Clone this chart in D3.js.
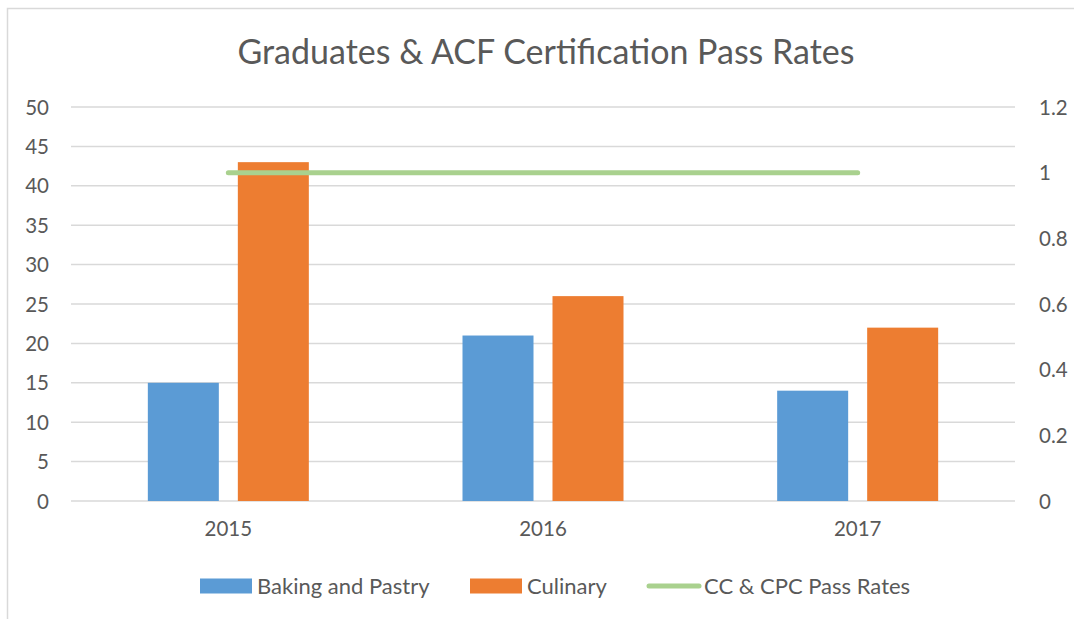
<!DOCTYPE html>
<html>
<head>
<meta charset="utf-8">
<script src="https://cdn.jsdelivr.net/npm/d3@7"></script>
<style>
  body { margin: 0; background: #fff; }
  text { font-family: Lato, "Open Sans", sans-serif; fill: #595959; }
</style>
</head>
<body>
<svg></svg>
<script>
let years = [ '2015', '2016', '2017' ]
let baking = [ 15, 21, 14 ]
let culinary = [ 43, 26, 22 ]
let passRates = [ 1, 1, 1 ]
let leftTicks = [ 0, 5, 10, 15, 20, 25, 30, 35, 40, 45, 50 ]
let rightTicks = [ 0, 0.2, 0.4, 0.6, 0.8, 1, 1.2 ]

let width = 1074
let height = 619
let plot = { left: 71, right: 1015, top: 107, bottom: 501 }

let chart =
d3.select( 'svg' )
  .attr( 'width', width )
  .attr( 'height', height )

// chart border
chart.append( 'rect' )
  .attr( 'x', 7.5 )
  .attr( 'y', 8.5 )
  .attr( 'width', 1080 )
  .attr( 'height', 640 )
  .attr( 'fill', 'none' )
  .attr( 'stroke', '#d9d9d9' )
  .attr( 'stroke-width', 1.5 )

const xScale =
d3.scaleBand()
  .domain( years )
  .range( [ plot.left, plot.right ] )

const yLeft =
d3.scaleLinear()
  .domain( [ 0, 50 ] )
  .range( [ plot.bottom, plot.top ] )

const yRight =
d3.scaleLinear()
  .domain( [ 0, 1.2 ] )
  .range( [ plot.bottom, plot.top ] )

// gridlines
chart.selectAll( '.grid' )
  .data( leftTicks )
  .enter()
  .append( 'line' )
  .attr( 'x1', plot.left )
  .attr( 'x2', plot.right )
  .attr( 'y1', d => yLeft( d ) )
  .attr( 'y2', d => yLeft( d ) )
  .attr( 'stroke', '#d9d9d9' )
  .attr( 'stroke-width', 1.5 )

// left axis
let leftAxis =
chart.append( 'g' )
  .attr( 'transform', `translate(${ plot.left - 22 },0)` )
  .call( d3.axisLeft( yLeft ).tickValues( leftTicks ).tickSize( 0 ).tickPadding( 0 ) )

// right axis
let rightAxis =
chart.append( 'g' )
  .attr( 'transform', `translate(${ plot.right + 24 },0)` )
  .call( d3.axisRight( yRight ).tickValues( rightTicks ).tickSize( 0 ).tickPadding( 0 ).tickFormat( d3.format( '' ) ) )

// bottom axis
let bottomAxis =
chart.append( 'g' )
  .attr( 'transform', `translate(0,${ plot.bottom + 20 })` )
  .call( d3.axisBottom( xScale ).tickSize( 0 ).tickPadding( 0 ) )

for ( let ax of [ leftAxis, rightAxis, bottomAxis ] ) {
  ax.select( '.domain' ).remove()
  ax.selectAll( 'text' )
    .attr( 'font-size', 20.5 )
    .attr( 'font-family', 'Lato, "Open Sans", sans-serif' )
    .attr( 'fill', '#595959' )
}
leftAxis.selectAll( 'text' ).attr( 'dy', '0.35em' )
rightAxis.selectAll( 'text' ).attr( 'dy', '0.35em' )
bottomAxis.selectAll( 'text' ).attr( 'dy', '0.72em' )

let barWidth = 71
let barGap = 19

chart.selectAll( '.baking' )
  .data( baking )
  .enter()
  .append( 'rect' )
  .attr( 'x', ( d, i ) => xScale( years[ i ] ) + xScale.bandwidth() / 2 - barGap / 2 - barWidth )
  .attr( 'y', d => yLeft( d ) )
  .attr( 'width', barWidth )
  .attr( 'height', d => yLeft( 0 ) - yLeft( d ) )
  .attr( 'fill', '#5b9bd5' )

chart.selectAll( '.culinary' )
  .data( culinary )
  .enter()
  .append( 'rect' )
  .attr( 'x', ( d, i ) => xScale( years[ i ] ) + xScale.bandwidth() / 2 + barGap / 2 )
  .attr( 'y', d => yLeft( d ) )
  .attr( 'width', barWidth )
  .attr( 'height', d => yLeft( 0 ) - yLeft( d ) )
  .attr( 'fill', '#ed7d31' )

let line =
d3.line()
  .x( ( d, i ) => xScale( years[ i ] ) + xScale.bandwidth() / 2 )
  .y( d => yRight( d ) )

chart.append( 'path' )
  .datum( passRates )
  .attr( 'd', line )
  .attr( 'fill', 'none' )
  .attr( 'stroke', '#a9d18e' )
  .attr( 'stroke-width', 5 )
  .attr( 'stroke-linecap', 'round' )

// title
chart.append( 'text' )
  .text( 'Graduates & ACF Certification Pass Rates' )
  .attr( 'x', 546 )
  .attr( 'y', 64 )
  .attr( 'text-anchor', 'middle' )
  .attr( 'font-size', 34 )

// legend
let legendY = 586
let legend = [
  { label: 'Baking and Pastry', color: '#5b9bd5', type: 'rect', x: 200 },
  { label: 'Culinary', color: '#ed7d31', type: 'rect', x: 470 },
  { label: 'CC & CPC Pass Rates', color: '#a9d18e', type: 'line', x: 647 }
]

let items =
chart.selectAll( '.legend' )
  .data( legend )
  .enter()
  .append( 'g' )
  .attr( 'transform', d => `translate(${ d.x },${ legendY })` )

items.filter( d => d.type === 'rect' )
  .append( 'rect' )
  .attr( 'x', 0 )
  .attr( 'y', -7.5 )
  .attr( 'width', 52 )
  .attr( 'height', 15 )
  .attr( 'fill', d => d.color )

items.filter( d => d.type === 'line' )
  .append( 'line' )
  .attr( 'x1', 2 )
  .attr( 'x2', 52 )
  .attr( 'stroke', d => d.color )
  .attr( 'stroke-width', 5 )
  .attr( 'stroke-linecap', 'round' )

items.append( 'text' )
  .text( d => d.label )
  .attr( 'x', 57 )
  .attr( 'dy', '0.35em' )
  .attr( 'font-size', 22 )
</script>
</body>
</html>
